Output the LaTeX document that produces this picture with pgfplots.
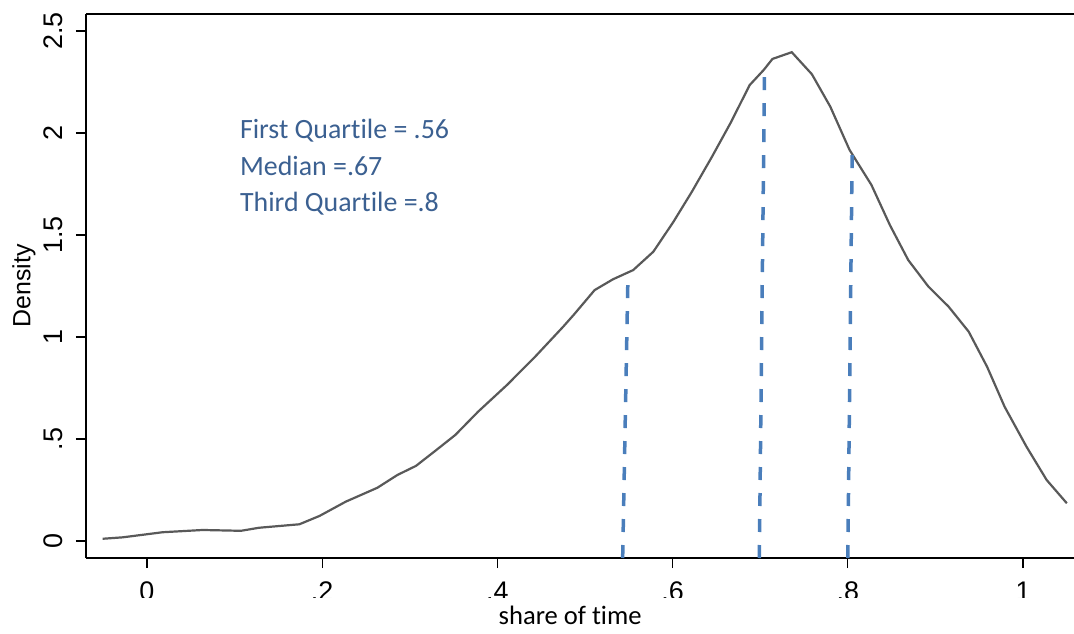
\documentclass[border=0pt]{standalone}
\usepackage{pgfplots}
\pgfplotsset{compat=1.18}
\usepackage{fontspec}
\setmainfont{Liberation Sans}
\newfontfamily\calibri[Ligatures=NoCommon]{Carlito}
\definecolor{curvegray}{RGB}{89,89,89}
\definecolor{qblue}{RGB}{74,126,187}
\definecolor{txtblue}{RGB}{59,96,145}
\begin{document}
\begin{tikzpicture}
\path[use as bounding box] (-86bp,-76bp) rectangle (988bp,558bp);
\begin{axis}[
  scale only axis, width=988bp, height=544bp,
  xmin=-0.0696, xmax=1.0582, ymin=-0.0833, ymax=2.5833,
  axis x line*=box, axis y line*=left,
  xtick pos=bottom, ytick pos=left,
  tick align=outside, major tick length=10bp,
  xtick={0,0.2,0.4,0.6,0.8,1}, xticklabels={0,.2,.4,.6,.8,1},
  ytick={0,0.5,1,1.5,2,2.5}, yticklabels={0,.5,1,1.5,2,2.5},
  tick style={line width=1.2bp, black},
  axis line style={line width=1.3bp, black},
  ticklabel style={font=\fontsize{27}{32}\selectfont},
  yticklabel style={rotate=90, anchor=south, inner ysep=13bp},
  xticklabel style={anchor=north, inner ysep=14bp},
  xlabel={share of time},
  ylabel={Density},
  every axis x label/.style={at={(axis description cs:0.490,-0.1057)}, anchor=center, font=\calibri\fontsize{26.7}{32}\selectfont, fill=white, minimum width=1000bp, minimum height=35bp, inner sep=0pt},
  every axis y label/.style={at={(axis description cs:-0.0628,0.5)}, rotate=90, anchor=center, font=\fontsize{25}{30}\selectfont},
]
\addplot[curvegray, line width=2.2bp, mark=none] coordinates {
(-0.0506,0.011) (-0.0277,0.018) (0.0179,0.043) (0.0636,0.054) (0.1073,0.050)
(0.128,0.065) (0.174,0.082) (0.197,0.123) (0.227,0.193) (0.263,0.261)
(0.286,0.324) (0.307,0.368) (0.330,0.445) (0.352,0.520) (0.378,0.634)
(0.411,0.765) (0.443,0.903) (0.475,1.050) (0.487,1.108) (0.511,1.230)
(0.532,1.283) (0.555,1.328) (0.578,1.418) (0.601,1.565) (0.622,1.712)
(0.645,1.884) (0.666,2.048) (0.688,2.235) (0.704,2.309) (0.714,2.363)
(0.736,2.396) (0.759,2.288) (0.780,2.129) (0.802,1.917) (0.827,1.745)
(0.848,1.549) (0.869,1.377) (0.892,1.247) (0.915,1.149) (0.938,1.026)
(0.959,0.854) (0.979,0.658) (1.004,0.462) (1.027,0.299) (1.050,0.185)
};
\addplot[qblue, line width=3.5bp, dash pattern=on 13bp off 13bp, mark=none] coordinates {(0.543,-0.0833) (0.549,1.29)};
\addplot[qblue, line width=3.5bp, dash pattern=on 13bp off 13bp, mark=none] coordinates {(0.699,-0.0833) (0.705,2.33)};
\addplot[qblue, line width=3.5bp, dash pattern=on 13bp off 13bp, mark=none] coordinates {(0.800,-0.0833) (0.805,1.91)};
\node[anchor=base west, inner sep=0pt, text=txtblue, font=\calibri\fontsize{28}{34}\selectfont] at (axis cs:0.106,1.975) {First Quartile = .56};
\node[anchor=base west, inner sep=0pt, text=txtblue, font=\calibri\fontsize{28}{34}\selectfont] at (axis cs:0.106,1.794) {Median =.67};
\node[anchor=base west, inner sep=0pt, text=txtblue, font=\calibri\fontsize{28}{34}\selectfont] at (axis cs:0.106,1.614) {Third Quartile =.8};
\end{axis}
\end{tikzpicture}
\end{document}
